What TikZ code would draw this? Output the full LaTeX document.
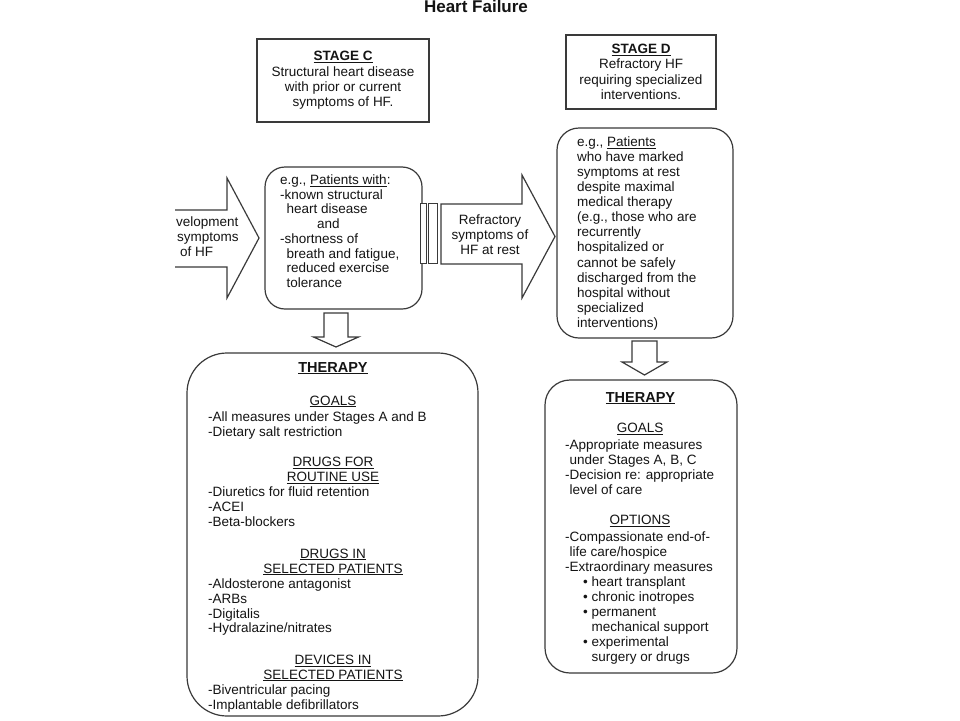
\documentclass[tikz,border=0pt]{standalone}
\usepackage{fontspec}
\setmainfont{Liberation Sans}
\definecolor{lineC}{HTML}{3A3A3A}
\definecolor{txtC}{HTML}{141414}
\begin{document}
\begin{tikzpicture}[x=1pt,y=-1pt,
  ln/.style={draw=lineC, line width=1.2pt},
  sqbox/.style={ln, fill=white, inner sep=0pt, text=txtC, font=\fontsize{13.5}{15.3}\selectfont, align=center},
  rbox/.style={ln, fill=white, inner sep=0pt},
  blockarrow/.style={ln, fill=white, line join=miter},
  txt/.style={font=\fontsize{13.5}{15}\selectfont, text=txtC, inner sep=0pt},
  hd/.style={txt, align=center, anchor=base},
  lst/.style={txt, align=left, anchor=base west},
  therh/.style={txt, font=\bfseries\fontsize{14.5}{16}\selectfont, anchor=base},
]
\useasboundingbox (0,0) rectangle (960,720);
\fill[white] (0,0) rectangle (960,720);

% title
\node[txt, font=\bfseries\fontsize{17}{19}\selectfont, anchor=base] (title) at (476,12.5) {Heart Failure};

% stage boxes
\node[sqbox, minimum width=172pt, minimum height=83pt] (stageC) at (343,80.5)
  {\textbf{\underline{STAGE C}}\\Structural heart disease\\with prior or current\\symptoms of HF.};
\node[sqbox, minimum width=150pt, minimum height=74pt] (stageD) at (641,72)
  {\textbf{\underline{STAGE D}}\\Refractory HF\\requiring specialized\\interventions.};

% left (clipped) block arrow
\draw[blockarrow] (175,210) -- (227,210) -- (227,178) -- (259,238) -- (227,298) -- (227,267) -- (175,267);
\node[lst] (devtxt) at (176,256.5) {velopment\\\hspace{1pt}symptoms\\\hspace{4pt}of HF};

% stage C patients box
\node[rbox, rounded corners=20pt, minimum width=157pt, minimum height=142pt] (patC) at (343.5,238) {};
\node[lst, font=\fontsize{13.5}{14.7}\selectfont] (patCtxt) at (280,287.4)
  {e.g., \underline{Patients with}:\\-known structural\\\hspace{6.5pt}heart disease\\\hspace{37pt}and\\-shortness of\\\hspace{6.5pt}breath and fatigue,\\\hspace{6.5pt}reduced exercise\\\hspace{6.5pt}tolerance};

% bars
\node[sqbox, line width=1pt, minimum width=6pt, minimum height=60pt] (bar1) at (423,233) {};
\node[sqbox, line width=1pt, minimum width=9pt, minimum height=60pt] (bar2) at (432.75,233) {};

% refractory arrow
\draw[blockarrow] (441,204) -- (522,204) -- (522,175) -- (555,236.5) -- (522,298) -- (522,264) -- (441,264) -- cycle;
\node[hd] (refr) at (490,254.5) {Refractory\\symptoms of\\HF at rest};

% stage D patients box
\node[rbox, rounded corners=22pt, minimum width=176pt, minimum height=210pt] (patD) at (645,233) {};
\node[lst, font=\fontsize{13.5}{15.1}\selectfont] (patDtxt) at (577,327.4)
  {e.g., \underline{Patients}\\who have marked\\symptoms at rest\\despite maximal\\medical therapy\\(e.g., those who are\\recurrently\\hospitalized or\\cannot be safely\\discharged from the\\hospital without\\specialized\\interventions)};

% down arrows
\draw[blockarrow] (324,313) -- (348,313) -- (348,337) -- (358.5,337) -- (336,347) -- (313.5,337) -- (324,337) -- cycle;
\draw[blockarrow] (632,341) -- (657,341) -- (657,362) -- (667,362) -- (644.5,375) -- (622,362) -- (632,362) -- cycle;

% stage C therapy
\node[rbox, rounded corners=40pt, minimum width=291pt, minimum height=363pt] (therC) at (332.5,534.5) {};
\node[therh] (therCh) at (333,372) {\underline{THERAPY}};
\node[hd] (goalsC) at (333,405) {\underline{GOALS}};
\node[lst] (goalsClist) at (208,436) {-All measures under Stages A and B\\-Dietary salt restriction};
\node[hd] (routineh) at (333,481.5) {\underline{DRUGS FOR}\\\underline{ROUTINE USE}};
\node[lst] (routinelist) at (208,526.5) {-Diuretics for fluid retention\\-ACEI\\-Beta-blockers};
\node[hd] (selh) at (333,573) {\underline{DRUGS IN}\\\underline{SELECTED PATIENTS}};
\node[lst, font=\fontsize{13.5}{14.8}\selectfont] (sellist) at (208,632.9) {-Aldosterone antagonist\\-ARBs\\-Digitalis\\-Hydralazine/nitrates};
\node[hd, font=\fontsize{13.5}{14.5}\selectfont] (devh) at (333,679) {\underline{DEVICES IN}\\\underline{SELECTED PATIENTS}};
\node[lst] (devlist) at (208,709.5) {-Biventricular pacing\\-Implantable defibrillators};

% stage D therapy
\node[rbox, rounded corners=25pt, minimum width=192pt, minimum height=293pt] (therD) at (641,526.5) {};
\node[therh] (therDh) at (640.5,402) {\underline{THERAPY}};
\node[hd] (goalsD) at (640,432.5) {\underline{GOALS}};
\node[lst] (goalsDlist) at (565,494.5) {-Appropriate measures\\\phantom{-}under Stages A, B, C\\-Decision re: appropriate\\\phantom{-}level of care};
\node[hd] (optD) at (640,524.5) {\underline{OPTIONS}};
\node[lst] (optDlist) at (565,571.5) {-Compassionate end-of-\\\phantom{-}life care/hospice\\-Extraordinary measures};
\node[lst] (bullets) at (583,661.5) {\textbullet\ heart transplant\\\textbullet\ chronic inotropes\\\textbullet\ permanent\\\phantom{\textbullet\ }mechanical support\\\textbullet\ experimental\\\phantom{\textbullet\ }surgery or drugs};
\end{tikzpicture}
\end{document}
